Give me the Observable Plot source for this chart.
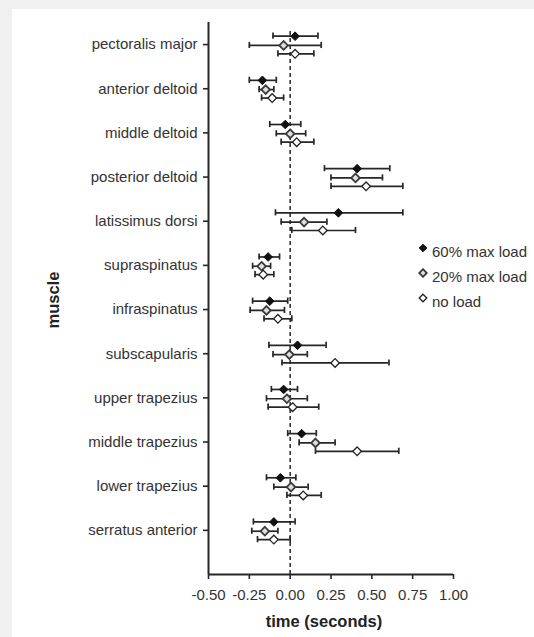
<!DOCTYPE html>
<html>
<head>
<meta charset="utf-8">
<script src="https://cdn.jsdelivr.net/npm/d3@7"></script>
<script src="https://cdn.jsdelivr.net/npm/@observablehq/plot@0.6"></script>
<style>
  html, body { margin: 0; padding: 0; background: #f0f0f0; width: 534px; height: 637px; overflow: hidden; }
  #page { position: absolute; left: 12px; top: 9px; right: 0; bottom: 0; background: #fff; }
  #chart { position: absolute; left: 0; top: 0; }
  #legend { position: absolute; left: 418px; top: 239px; font-family: "Liberation Sans", Arial, sans-serif; font-size: 15px; color: #333; }
  #legend .row { height: 25px; display: flex; align-items: center; white-space: nowrap; }
  #legend svg { margin-right: 4px; position: relative; top: -4px; }
</style>
</head>
<body>
<div id="page"></div>
<div id="chart"></div>
<div id="legend"></div>
<script>
// Categories, top to bottom
const muscles = [
  "pectoralis major", "anterior deltoid", "middle deltoid", "posterior deltoid",
  "latissimus dorsi", "supraspinatus", "infraspinatus", "subscapularis",
  "upper trapezius", "middle trapezius", "lower trapezius", "serratus anterior"
];
const conditions = ["60% max load", "20% max load", "no load"];

// 60% max load: mean, lower and upper end of the error bar (seconds)
const mean60 = [0.03, -0.17, -0.03, 0.41, 0.295, -0.135, -0.125, 0.045, -0.04, 0.07, -0.06, -0.10];
const lo60   = [-0.105, -0.25, -0.125, 0.21, -0.09, -0.19, -0.23, -0.13, -0.115, -0.015, -0.145, -0.225];
const hi60   = [0.17, -0.085, 0.065, 0.61, 0.69, -0.065, -0.015, 0.22, 0.045, 0.16, 0.035, 0.03];

// 20% max load
const mean20 = [-0.04, -0.15, 0.00, 0.40, 0.085, -0.175, -0.145, -0.005, -0.02, 0.155, 0.005, -0.155];
const lo20   = [-0.25, -0.19, -0.085, 0.25, -0.055, -0.23, -0.245, -0.105, -0.145, 0.055, -0.10, -0.235];
const hi20   = [0.19, -0.10, 0.095, 0.565, 0.225, -0.12, -0.035, 0.105, 0.105, 0.275, 0.11, -0.075];

// no load
const mean0 = [0.03, -0.11, 0.04, 0.465, 0.20, -0.165, -0.075, 0.275, 0.015, 0.41, 0.08, -0.10];
const lo0   = [-0.075, -0.175, -0.055, 0.25, 0.01, -0.215, -0.16, -0.05, -0.135, 0.155, -0.02, -0.20];
const hi0   = [0.145, -0.04, 0.145, 0.69, 0.40, -0.10, 0.01, 0.605, 0.175, 0.665, 0.19, 0.00];

const xTicks = [-0.5, -0.25, 0, 0.25, 0.5, 0.75, 1.0];

// Build a table for the library
const series = [
  {cond: conditions[0], mean: mean60, lo: lo60, hi: hi60, off: 0.19},
  {cond: conditions[1], mean: mean20, lo: lo20, hi: hi20, off: -0.02},
  {cond: conditions[2], mean: mean0,  lo: lo0,  hi: hi0,  off: -0.21}
];
const rows = [];
series.forEach(s => muscles.forEach((m, i) => {
  rows.push({muscle: m, cond: s.cond, mean: s.mean[i], lo: s.lo[i], hi: s.hi[i], pos: (muscles.length - i) + s.off});
}));

const fills = {"60% max load": "#111", "20% max load": "#dedede", "no load": "#fff"};
const strokes = {"60% max load": "#111", "20% max load": "#3a3a3a", "no load": "#222"};
const sw = {"60% max load": 1, "20% max load": 1.8, "no load": 1.3};
const font = '"Liberation Sans", Arial, sans-serif';
const ink = "#262626";

const chart = Plot.plot({
  width: 534,
  height: 637,
  marginLeft: 208,
  marginRight: 81,
  marginTop: 22,
  marginBottom: 63,
  style: {fontFamily: font, fontSize: "15px", color: "#333", background: "transparent", overflow: "visible"},
  x: {domain: [-0.5, 1.0]},
  y: {domain: [0, 12.5]},
  marks: [
    Plot.axisX({ticks: xTicks, tickFormat: d => d.toFixed(2), tickSize: 5, tickPadding: 10, label: null, stroke: ink, strokeWidth: 1.6, fill: "#333"}),
    Plot.axisY({ticks: d3.range(1, muscles.length + 1), tickFormat: v => muscles[muscles.length - v], tickSize: 5, tickPadding: 6, label: null, stroke: ink, strokeWidth: 1.6, fill: "#333"}),
    Plot.ruleX([-0.5], {stroke: ink, strokeWidth: 2}),
    Plot.ruleY([0], {stroke: ink, strokeWidth: 2}),
    Plot.ruleX([0], {y1: 0, y2: 12.3, stroke: ink, strokeWidth: 1.5, strokeDasharray: "4,3"}),
    Plot.ruleY(rows, {y: "pos", x1: "lo", x2: "hi", stroke: ink, strokeWidth: 1.7}),
    Plot.ruleX(rows, {x: "lo", y1: d => d.pos - 0.07, y2: d => d.pos + 0.07, stroke: ink, strokeWidth: 1.7}),
    Plot.ruleX(rows, {x: "hi", y1: d => d.pos - 0.07, y2: d => d.pos + 0.07, stroke: ink, strokeWidth: 1.7}),
    Plot.dot(rows, {x: "mean", y: "pos", symbol: "diamond2", r: 3.9,
      fill: d => fills[d.cond], stroke: d => strokes[d.cond], strokeWidth: d => sw[d.cond]}),
    Plot.text(["time (seconds)"], {frameAnchor: "bottom", dx: -7, dy: 52, fontWeight: "bold", fontSize: 16.5, fill: "#222"}),
    Plot.text(["muscle"], {frameAnchor: "left", rotate: -90, dx: -155, dy: 30, fontWeight: "bold", fontSize: 16.5, fill: "#222"})
  ]
});
document.getElementById("chart").appendChild(chart);

// Legend
const legend = d3.select("#legend");
conditions.forEach(c => {
  const row = legend.append("div").attr("class", "row");
  const s = row.append("svg").attr("width", 10).attr("height", 10);
  s.append("path").attr("d", "M5,1.2 L8.8,5 L5,8.8 L1.2,5 Z")
    .attr("fill", fills[c]).attr("stroke", strokes[c]).attr("stroke-width", sw[c]);
  row.append("span").text(c);
});
</script>
</body>
</html>
